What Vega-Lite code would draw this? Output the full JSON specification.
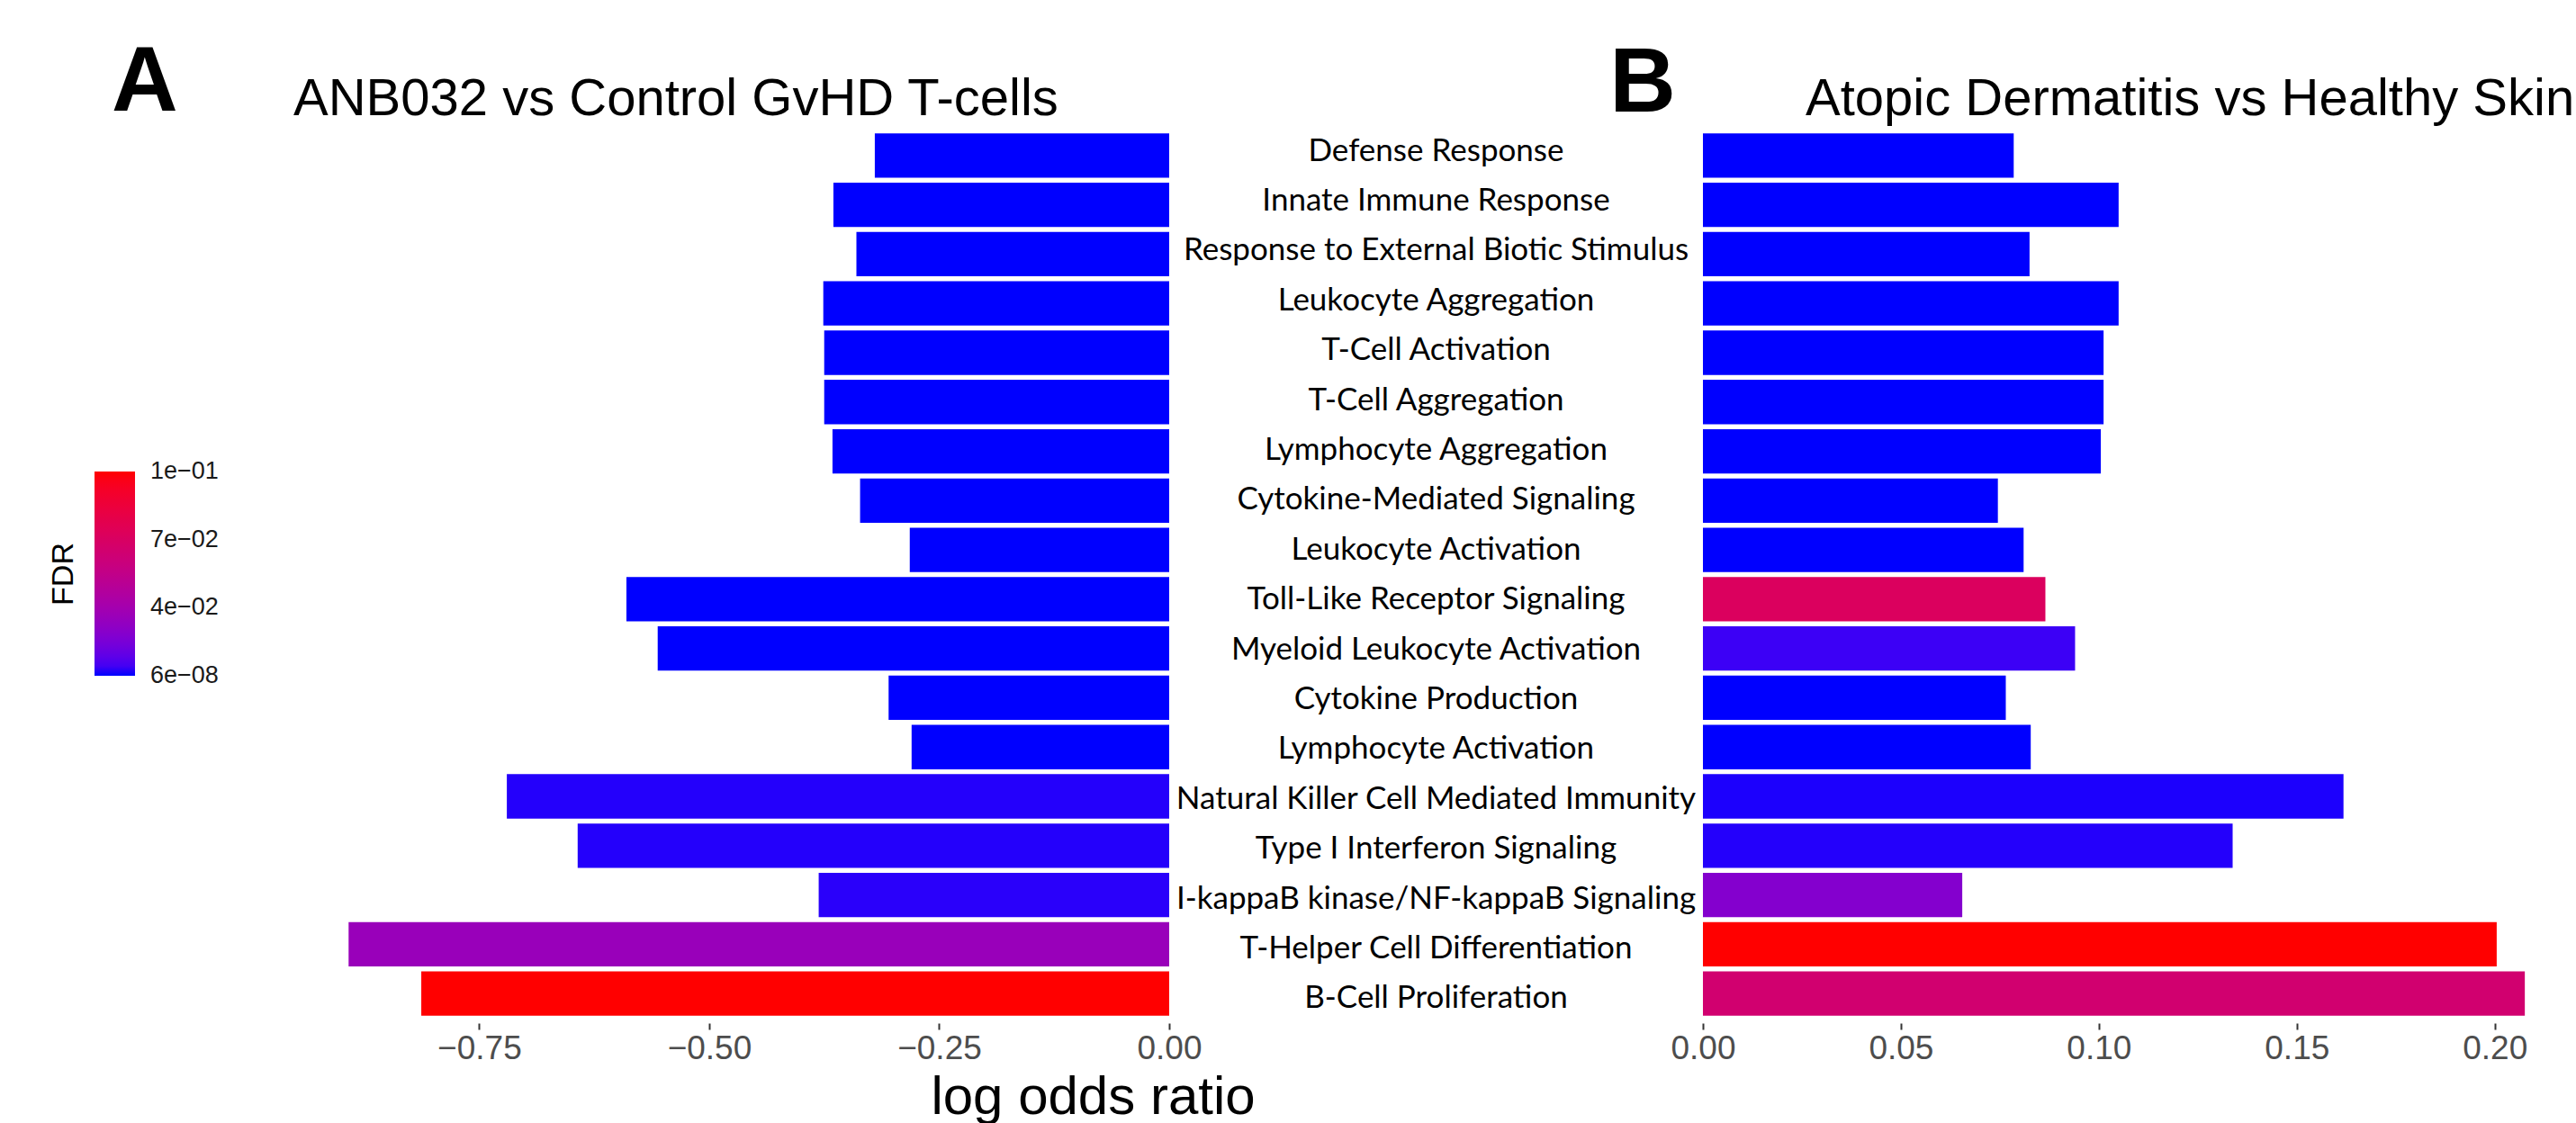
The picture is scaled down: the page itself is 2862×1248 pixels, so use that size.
{
  "$schema": "https://vega.github.io/schema/vega-lite/v6.json",
  "background": "white",
  "padding": {"left": 54, "top": 41, "right": 0, "bottom": 0},
  "title": {"text": "A", "anchor": "start", "frame": "group", "dx": -217, "dy": 183, "offset": 0, "baseline": "alphabetic", "fontSize": 102, "font": "Liberation Sans", "fontWeight": "bold", "color": "black"},
  "data": {"values": [
    {"term": "Defense Response", "panel": "A", "lor": -0.320, "fdr": 0.000001},
    {"term": "Innate Immune Response", "panel": "A", "lor": -0.365, "fdr": 0.000001},
    {"term": "Response to External Biotic Stimulus", "panel": "A", "lor": -0.340, "fdr": 0.000001},
    {"term": "Leukocyte Aggregation", "panel": "A", "lor": -0.376, "fdr": 0.000001},
    {"term": "T-Cell Activation", "panel": "A", "lor": -0.375, "fdr": 0.000001},
    {"term": "T-Cell Aggregation", "panel": "A", "lor": -0.375, "fdr": 0.000001},
    {"term": "Lymphocyte Aggregation", "panel": "A", "lor": -0.366, "fdr": 0.000001},
    {"term": "Cytokine-Mediated Signaling", "panel": "A", "lor": -0.336, "fdr": 0.000001},
    {"term": "Leukocyte Activation", "panel": "A", "lor": -0.282, "fdr": 0.000001},
    {"term": "Toll-Like Receptor Signaling", "panel": "A", "lor": -0.590, "fdr": 0.000001},
    {"term": "Myeloid Leukocyte Activation", "panel": "A", "lor": -0.556, "fdr": 0.000001},
    {"term": "Cytokine Production", "panel": "A", "lor": -0.305, "fdr": 0.000001},
    {"term": "Lymphocyte Activation", "panel": "A", "lor": -0.280, "fdr": 0.000001},
    {"term": "Natural Killer Cell Mediated Immunity", "panel": "A", "lor": -0.720, "fdr": 0.0015},
    {"term": "Type I Interferon Signaling", "panel": "A", "lor": -0.643, "fdr": 0.0015},
    {"term": "I-kappaB kinase/NF-kappaB Signaling", "panel": "A", "lor": -0.381, "fdr": 0.002},
    {"term": "T-Helper Cell Differentiation", "panel": "A", "lor": -0.892, "fdr": 0.030},
    {"term": "B-Cell Proliferation", "panel": "A", "lor": -0.813, "fdr": 0.105},
    {"term": "Defense Response", "panel": "B", "lor": 0.0785, "fdr": 0.000001},
    {"term": "Innate Immune Response", "panel": "B", "lor": 0.105, "fdr": 0.000001},
    {"term": "Response to External Biotic Stimulus", "panel": "B", "lor": 0.0825, "fdr": 0.000001},
    {"term": "Leukocyte Aggregation", "panel": "B", "lor": 0.105, "fdr": 0.000001},
    {"term": "T-Cell Activation", "panel": "B", "lor": 0.1012, "fdr": 0.000001},
    {"term": "T-Cell Aggregation", "panel": "B", "lor": 0.1012, "fdr": 0.000001},
    {"term": "Lymphocyte Aggregation", "panel": "B", "lor": 0.1005, "fdr": 0.000001},
    {"term": "Cytokine-Mediated Signaling", "panel": "B", "lor": 0.0745, "fdr": 0.000001},
    {"term": "Leukocyte Activation", "panel": "B", "lor": 0.081, "fdr": 0.000001},
    {"term": "Toll-Like Receptor Signaling", "panel": "B", "lor": 0.0865, "fdr": 0.072},
    {"term": "Myeloid Leukocyte Activation", "panel": "B", "lor": 0.094, "fdr": 0.004},
    {"term": "Cytokine Production", "panel": "B", "lor": 0.0765, "fdr": 0.000001},
    {"term": "Lymphocyte Activation", "panel": "B", "lor": 0.0828, "fdr": 0.000001},
    {"term": "Natural Killer Cell Mediated Immunity", "panel": "B", "lor": 0.1618, "fdr": 0.001},
    {"term": "Type I Interferon Signaling", "panel": "B", "lor": 0.1338, "fdr": 0.0015},
    {"term": "I-kappaB kinase/NF-kappaB Signaling", "panel": "B", "lor": 0.0655, "fdr": 0.021},
    {"term": "T-Helper Cell Differentiation", "panel": "B", "lor": 0.2005, "fdr": 0.105},
    {"term": "B-Cell Proliferation", "panel": "B", "lor": 0.2076, "fdr": 0.064}
  ]},
  "spacing": 0,
  "bounds": "flush",
  "hconcat": [
    {
      "width": 958,
      "height": 997,
      "title": {"text": "ANB032 vs Control GvHD T-cells", "anchor": "start", "frame": "group", "dx": -15, "dy": 61, "offset": 15, "baseline": "alphabetic", "fontSize": 58, "font": "Liberation Sans", "fontWeight": "normal", "color": "black"},
      "transform": [{"filter": "datum.panel === 'A'"}],
      "mark": {"type": "bar"},
      "encoding": {
        "y": {"field": "term", "type": "nominal", "sort": null, "scale": {"paddingInner": 0.1, "paddingOuter": 0.15}, "axis": null},
        "x": {"field": "lor", "type": "quantitative", "scale": {"domain": [-0.9373, 0], "nice": false},
              "axis": {"values": [-0.75, -0.5, -0.25, 0], "format": ".2f", "title": "log odds ratio", "titleX": 873, "titleY": 100, "titleAlign": "center", "titleBaseline": "alphabetic", "titleFontSize": 60}},
        "color": {"field": "fdr", "type": "quantitative",
                  "scale": {"domain": [6e-8, 0.105], "range": ["#0000FF", "#FF0000"], "interpolate": "lab"},
                  "legend": {"orient": "none", "legendX": -287, "legendY": 384, "direction": "vertical", "title": "FDR", "titleOrient": "left", "titleAnchor": "middle", "titlePadding": 17, "titleFontSize": 34, "titleFont": "Liberation Sans", "titleFontWeight": "normal", "titleColor": "black",
                             "gradientLength": 227, "gradientThickness": 45, "gradientStrokeWidth": 0,
                             "values": [6e-8, 0.035, 0.07, 0.105],
                             "labelExpr": "datum.value > 0.09 ? '1e−01' : datum.value > 0.06 ? '7e−02' : datum.value > 0.02 ? '4e−02' : '6e−08'",
                             "labelFontSize": 27, "labelFont": "Liberation Sans", "labelColor": "#1A1A1A", "labelOffset": 17, "labelBaseline": "middle", "padding": 0,
                             "encode": {"labels": {"update": {"baseline": {"value": "middle"}}}}}}
      }
    },
    {
      "width": 593,
      "height": 997,
      "title": {"text": "B", "anchor": "end", "frame": "group", "dx": -30, "dy": 101, "offset": 15, "baseline": "alphabetic", "fontSize": 102, "font": "Liberation Sans", "fontWeight": "bold", "color": "black"},
      "transform": [{"filter": "datum.panel === 'A'"}],
      "mark": {"type": "text", "font": "Lato", "fontSize": 35, "color": "black", "align": "center", "baseline": "middle"},
      "encoding": {
        "y": {"field": "term", "type": "nominal", "sort": null, "scale": {"paddingInner": 0.1, "paddingOuter": 0.15}, "axis": null},
        "text": {"field": "term", "type": "nominal"}
      }
    },
    {
      "width": 958,
      "height": 997,
      "title": {"text": "Atopic Dermatitis vs Healthy Skin", "anchor": "start", "frame": "group", "dx": 114, "dy": 61, "offset": 15, "baseline": "alphabetic", "fontSize": 58, "font": "Liberation Sans", "fontWeight": "normal", "color": "black"},
      "transform": [{"filter": "datum.panel === 'B'"}],
      "mark": {"type": "bar"},
      "encoding": {
        "y": {"field": "term", "type": "nominal", "sort": null, "scale": {"paddingInner": 0.1, "paddingOuter": 0.15}, "axis": null},
        "x": {"field": "lor", "type": "quantitative", "scale": {"domain": [0, 0.2178], "nice": false},
              "axis": {"values": [0, 0.05, 0.1, 0.15, 0.2], "format": ".2f", "title": null}},
        "color": {"field": "fdr", "type": "quantitative"}
      }
    }
  ],
  "config": {
    "view": {"stroke": null},
    "axis": {"domain": false, "grid": false, "ticks": true, "tickColor": "#333333", "tickSize": 7, "tickWidth": 2, "labelFont": "Liberation Sans", "labelFontSize": 37, "labelColor": "#4D4D4D", "labelPadding": 3, "labelFlush": false, "titleFont": "Liberation Sans", "titleFontWeight": "normal", "titleColor": "black"}
  }
}
